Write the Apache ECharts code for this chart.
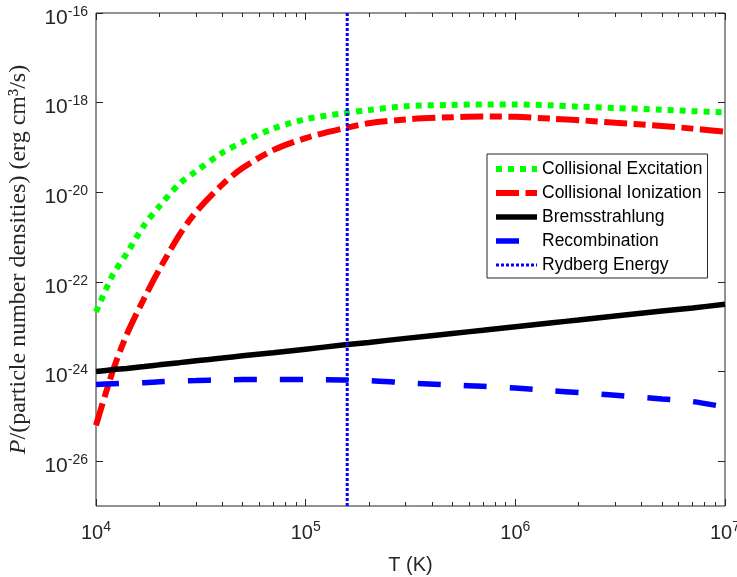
<!DOCTYPE html>
<html>
<head>
<meta charset="utf-8">
<script src="https://cdn.jsdelivr.net/npm/echarts@6/dist/echarts.min.js"></script>
<style>
html, body { margin: 0; padding: 0; background: #fff; }
#chart { width: 737px; height: 577px; }
</style>
</head>
<body>
<div id="chart"></div>
<script>
// temperature grid (K) and the four rates (erg cm^3/s)
var temperatureK = [1e4, 1.2e4, 1.4e4, 1.7e4, 2e4, 2.5e4, 3e4, 4e4, 5e4, 7e4, 1e5, 1.5e5,
	2e5, 3e5, 5e5, 7e5, 1e6, 1.5e6, 2e6, 3e6, 5e6, 7e6, 1e7];

var collisionalExcitation = [2.14e-23, 1.41e-22, 4.27e-22, 1.86e-21, 4.79e-21, 1.55e-20, 2.95e-20,
	7.59e-20, 1.32e-19, 2.63e-19, 4.27e-19, 5.75e-19, 6.84e-19, 8.32e-19, 8.91e-19, 9.12e-19,
	9.12e-19, 8.71e-19, 8.13e-19, 7.59e-19, 6.92e-19, 6.46e-19, 6.03e-19];

var collisionalIonization = [6.31e-26, 1.0e-24, 6.61e-24, 4.37e-23, 1.86e-22, 1.12e-21, 3.63e-21,
	1.48e-20, 3.47e-20, 8.71e-20, 1.62e-19, 2.63e-19, 3.47e-19, 4.22e-19, 4.73e-19, 4.90e-19,
	4.84e-19, 4.37e-19, 4.07e-19, 3.55e-19, 3.02e-19, 2.63e-19, 2.24e-19];

var bremsstrahlung = [1.0e-24, 1.10e-24, 1.17e-24, 1.29e-24, 1.41e-24, 1.58e-24, 1.74e-24,
	2.0e-24, 2.24e-24, 2.63e-24, 3.16e-24, 3.89e-24, 4.47e-24, 5.50e-24, 7.08e-24, 8.32e-24,
	1.0e-23, 1.23e-23, 1.41e-23, 1.74e-23, 2.24e-23, 2.63e-23, 3.16e-23];

var recombination = [5.13e-25, 5.37e-25, 5.50e-25, 5.62e-25, 5.89e-25, 6.17e-25, 6.31e-25,
	6.53e-25, 6.61e-25, 6.61e-25, 6.61e-25, 6.46e-25, 6.31e-25, 5.62e-25, 5.01e-25, 4.68e-25,
	4.27e-25, 3.72e-25, 3.39e-25, 2.95e-25, 2.45e-25, 2.14e-25, 1.62e-25];

var rydbergT = 1.578e5;

var xMin = 1e4, xMax = 1e7;
var yMin = 1e-27, yMax = 1e-16;
var yTickExponents = [-26, -24, -22, -20, -18, -16];
var minorDecades = [4, 5, 6];
var minorSteps = [2, 3, 4, 5, 6, 7, 8, 9];

var minorTicks = [];
for (var d of minorDecades) {
	for (var m of minorSteps) {
		minorTicks.push(d + Math.log10(m));
	}
}

function pairs(ys) {
	return temperatureK.map(function (t, i) { return [t, ys[i]]; });
}

var axisColor = '#262626';
var sansFont = 'Liberation Sans, Arial, sans-serif';
var serifFont = 'Liberation Serif, Times New Roman, serif';

var chartDom = document.getElementById('chart');
var myChart = echarts.init(chartDom);

var option = {
	animation: false,
	backgroundColor: '#fff',
	grid: {
		left: 96, right: 12, top: 13, bottom: 71,
		containLabel: false,
		outerBoundsMode: 'none',
		show: true,
		borderColor: axisColor,
		borderWidth: 1,
		backgroundColor: 'transparent'
	},
	legend: {
		orient: 'vertical',
		left: 487,
		top: 154,
		padding: [6, 5, 4, 6],
		itemWidth: 41,
		itemHeight: 14,
		itemGap: 6,
		backgroundColor: '#fff',
		borderColor: axisColor,
		borderWidth: 1,
		borderRadius: 0,
		itemStyle: { opacity: 0 },
		lineStyle: { width: 'inherit', type: 'inherit', cap: 'butt' },
		textStyle: { fontSize: 17.5, fontFamily: sansFont, color: '#000', lineHeight: 18 },
		data: ['Collisional Excitation', 'Collisional Ionization', 'Bremsstrahlung', 'Recombination', 'Rydberg Energy']
	},
	xAxis: [
		{
			type: 'log', logBase: 10, min: xMin, max: xMax, position: 'bottom',
			axisLine: { show: false },
			splitLine: { show: false },
			axisTick: { inside: true, length: 7, lineStyle: { color: axisColor } },
			axisLabel: {
				margin: 14,
				color: '#262626',
				fontFamily: sansFont,
				formatter: function (v) { return '10{sup|' + Math.round(Math.log10(v)) + '}'; },
				rich: {
					sup: { fontSize: 14, fontFamily: sansFont, color: '#262626', padding: [0, 0, 12, 0] }
				},
				fontSize: 20
			},
			name: 'T (K)',
			nameLocation: 'middle',
			nameGap: 49,
			nameTextStyle: { fontSize: 20, fontFamily: sansFont, color: '#262626' }
		},
		{
			type: 'value', min: 4, max: 7, position: 'bottom',
			axisLine: { show: false }, splitLine: { show: false }, axisLabel: { show: false },
			axisTick: { inside: true, length: 4, customValues: minorTicks, lineStyle: { color: axisColor } }
		},
		{
			type: 'log', logBase: 10, min: xMin, max: xMax, position: 'top',
			axisLine: { show: false }, splitLine: { show: false }, axisLabel: { show: false },
			axisTick: { inside: true, length: 7, lineStyle: { color: axisColor } }
		},
		{
			type: 'value', min: 4, max: 7, position: 'top',
			axisLine: { show: false }, splitLine: { show: false }, axisLabel: { show: false },
			axisTick: { inside: true, length: 4, customValues: minorTicks, lineStyle: { color: axisColor } }
		}
	],
	yAxis: [
		{
			type: 'log', logBase: 10, min: yMin, max: yMax, position: 'left',
			axisLine: { show: false }, splitLine: { show: false },
			axisTick: { show: false }, axisLabel: { show: false }
		},
		{
			type: 'value', min: -27, max: -16, position: 'left',
			axisLine: { show: false }, splitLine: { show: false },
			axisTick: { inside: true, length: 7, customValues: yTickExponents, lineStyle: { color: axisColor } },
			axisLabel: {
				customValues: yTickExponents,
				margin: 8,
				padding: [10, 0, 0, 0],
				color: '#262626',
				fontSize: 21,
				fontFamily: sansFont,
				formatter: function (v) { return '10{sup|' + v + '}'; },
				rich: {
					sup: { fontSize: 14, fontFamily: sansFont, color: '#262626', padding: [0, 0, 12, 0] }
				}
			},
			name: '{it|P}/(particle number densities) (erg cm³/s)',
			nameLocation: 'middle',
			nameRotate: 90,
			nameGap: 65,
			nameTextStyle: {
				fontSize: 24,
				fontFamily: serifFont,
				color: '#262626',
				rich: {
					it: { fontSize: 24, fontStyle: 'italic', fontFamily: serifFont, color: '#262626' }
				}
			}
		},
		{
			type: 'value', min: -27, max: -16, position: 'right',
			axisLine: { show: false }, splitLine: { show: false }, axisLabel: { show: false },
			axisTick: { inside: true, length: 7, customValues: yTickExponents, lineStyle: { color: axisColor } }
		}
	],
	series: [
		{
			name: 'Collisional Excitation', type: 'line', symbol: 'none', smooth: 0.3,
			xAxisIndex: 0, yAxisIndex: 0,
			lineStyle: { color: '#00ff00', width: 6, type: [6, 6], cap: 'butt' },
			itemStyle: { color: '#00ff00' },
			data: pairs(collisionalExcitation)
		},
		{
			name: 'Collisional Ionization', type: 'line', symbol: 'none', smooth: 0.3,
			xAxisIndex: 0, yAxisIndex: 0,
			lineStyle: { color: '#ff0000', width: 6, type: [23, 6.5, 12, 6.5], cap: 'butt' },
			itemStyle: { color: '#ff0000' },
			data: pairs(collisionalIonization)
		},
		{
			name: 'Bremsstrahlung', type: 'line', symbol: 'none', smooth: 0.3,
			xAxisIndex: 0, yAxisIndex: 0,
			lineStyle: { color: '#000000', width: 5.5 },
			itemStyle: { color: '#000000' },
			data: pairs(bremsstrahlung)
		},
		{
			name: 'Recombination', type: 'line', symbol: 'none', smooth: 0.3,
			xAxisIndex: 0, yAxisIndex: 0,
			lineStyle: { color: '#0000ff', width: 5.5, type: [23, 23], cap: 'butt' },
			itemStyle: { color: '#0000ff' },
			data: pairs(recombination)
		},
		{
			name: 'Rydberg Energy', type: 'line', symbol: 'none',
			xAxisIndex: 0, yAxisIndex: 0,
			lineStyle: { color: '#0000ff', width: 3, type: [3, 2], cap: 'butt' },
			itemStyle: { color: '#0000ff' },
			data: [[rydbergT, yMin], [rydbergT, yMax]]
		}
	]
};

myChart.setOption(option);
</script>
</body>
</html>
